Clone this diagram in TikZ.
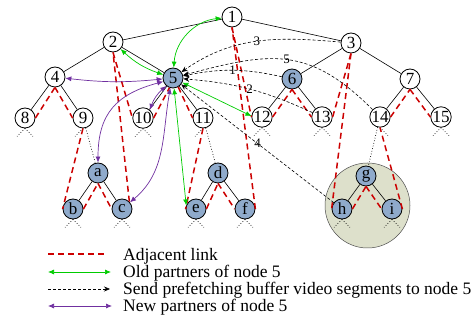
\documentclass[tikz,border=0pt]{standalone}
\usepackage{fontspec}
\setmainfont{Liberation Serif}
\usetikzlibrary{arrows.meta}
\definecolor{linkred}{RGB}{204,0,0}
\definecolor{oldgreen}{RGB}{0,204,0}
\definecolor{newpurple}{RGB}{112,48,160}
\definecolor{peerblue}{RGB}{143,170,203}
\definecolor{groupfill}{RGB}{221,224,203}
\begin{document}
\begin{tikzpicture}[x=1pt,y=1pt,
  peer/.style={circle,draw,line width=0.8pt,fill=white,minimum size=20pt,inner sep=0pt,font=\fontsize{17}{17}\selectfont},
  newpeer/.style={peer,fill=peerblue},
  tree/.style={line width=0.6pt},
  sub/.style={dotted,line width=0.7pt},
  adj/.style={linkred,line width=1.5pt,dash pattern=on 6pt off 4pt},
  old/.style={oldgreen,line width=0.7pt,{Latex[length=6pt,width=5pt]}-{Latex[length=6pt,width=5pt]}},
  new/.style={newpurple,line width=0.7pt,{Latex[length=6pt,width=5pt]}-{Latex[length=6pt,width=5pt]}},
  fetch/.style={line width=0.6pt,dash pattern=on 3pt off 2pt,-{Stealth[length=6pt,width=5pt]}},
  num/.style={font=\fontsize{13}{13}\selectfont,inner sep=1pt},
  legtext/.style={anchor=base west,inner sep=0pt,font=\fontsize{17.5}{17.5}\selectfont}]
\useasboundingbox (0,0) rectangle (472,-323);

\node[circle,draw=black!70,line width=0.5pt,fill=groupfill,minimum size=85pt,inner sep=0pt] (grp) at (367.5,-205.5) {};

\node[peer] (n1) at (232,-17) {1};
\node[peer] (n2) at (113,-42) {2};
\node[peer] (n3) at (351,-43) {3};
\node[peer] (n4) at (55,-77) {4};
\node[newpeer] (n5) at (173,-78) {5};
\node[newpeer] (n6) at (292,-79) {6};
\node[peer] (n7) at (410,-79) {7};
\node[peer] (n8) at (25,-118) {8};
\node[peer] (n9) at (83,-118) {9};
\node[peer] (n10) at (143,-118) {10};
\node[peer] (n11) at (203,-118) {11};
\node[peer] (n12) at (262,-117) {12};
\node[peer] (n13) at (322,-117) {13};
\node[peer] (n14) at (380,-117) {14};
\node[peer] (n15) at (441,-117) {15};
\node[newpeer] (na) at (98,-173) {a};
\node[newpeer] (nb) at (73,-209) {b};
\node[newpeer] (nc) at (122,-209) {c};
\node[newpeer] (nd) at (218,-173) {d};
\node[newpeer] (ne) at (196,-209) {e};
\node[newpeer] (nf) at (245,-209) {f};
\node[newpeer] (ng) at (366,-176) {g};
\node[newpeer] (nh) at (342,-209) {h};
\node[newpeer] (ni) at (392,-209) {i};

\draw[tree] (n1) -- (n2);
\draw[tree] (n1) -- (n3);
\draw[tree] (n2) -- (n4);
\draw[tree] (n2) -- (n5);
\draw[tree] (n3) -- (n6);
\draw[tree] (n3) -- (n7);
\draw[tree] (n4) -- (n8);
\draw[tree] (n4) -- (n9);
\draw[tree] (n5) -- (n10);
\draw[tree] (n5) -- (n11);
\draw[tree] (n6) -- (n12);
\draw[tree] (n6) -- (n13);
\draw[tree] (n7) -- (n14);
\draw[tree] (n7) -- (n15);
\draw[tree] (na) -- (nb);
\draw[tree] (na) -- (nc);
\draw[tree] (nd) -- (ne);
\draw[tree] (nd) -- (nf);
\draw[tree] (ng) -- (nh);
\draw[tree] (ng) -- (ni);
\draw[sub] (n9) -- (na);
\draw[sub] (n11) -- (nd);
\draw[sub] (n14) -- (ng);

% open subtrees below the leaves
\foreach \n in {n8,n10,n12,n13,n15,nb,nc,ne,nf,nh,ni}
  \draw[sub] (\n.south) -- ++(-8,-8) (\n.south) -- ++(8,-8);
\draw[sub] (n9.south) -- ++(-8,-8);
\draw[sub] (n11.south) -- ++(-8,-8);
\draw[sub] (n14.south) -- ++(8,-8);

\draw[adj] (n8.east) -- (n4.south);
\draw[adj] (n4.south) -- (n9.west);
\draw[adj] (n9.south) -- (nb.west);
\draw[adj] (nb.east) -- (na.south);
\draw[adj] (na.south) -- (nc.west);
\draw[adj] (nc.north east) -- (n2.south);
\draw[adj] (n2.south) -- (n10.west);
\draw[adj] (n10.east) -- (n5.-110);
\draw[adj] (n5.-60) -- (n11.west);
\draw[adj] (n11.south) -- (ne.west);
\draw[adj] (ne.east) -- (nd.south);
\draw[adj] (nd.south) -- (nf.west);
\draw[adj] (nf.east) -- (n1.south);
\draw[adj] (n1.south) -- (n12.west);
\draw[adj] (n12.east) -- (n6.south);
\draw[adj] (n6.south) -- (n13.west);
\draw[adj] (n13.east) -- (n3.south);
\draw[adj] (n3.south) -- (nh.west);
\draw[adj] (nh.east) -- (ng.south);
\draw[adj] (ng.south) -- (ni.west);
\draw[adj] (ni.east) -- (n14.south);
\draw[adj] (n14.east) -- (n7.south);
\draw[adj] (n7.south) -- (n15.west);

\draw[old] (n5) to[bend left=40] (n1);
\draw[old] (n2) to[bend right=12] (n5);
\draw[old] (n5) -- (n12.175);
\draw[old] (n5) -- (ne.160);

\draw[new] (n4) to[bend right=6] (n5);
\draw[new] (n5.-130) to[bend right=15] (n10.50);
\draw[new] (n5.200) to[out=195,in=90,looseness=1.2] (na.north);
\draw[new] (n5.-105) to[out=-100,in=40] (nc);

\draw[fetch] (n3) to[out=175,in=35] node[num,pos=0.5] (l3) {3} (n5);
\draw[fetch] (n14) to[out=135,in=15,looseness=1.2] node[num,pos=0.5] (l5) {5} (n5);
\draw[fetch] (n6) to[bend right=12] node[num,pos=0.5] (l1) {1} (n5);
\draw[fetch] (n13) to[bend right=10] node[num,pos=0.5] (l2) {2} (n5);
\draw[fetch] (nh) -- node[num,pos=0.5] (l4) {4} (n5);

\node[legtext] (t1) at (123,-261) {Adjacent link};
\node[legtext] (t2) at (123,-278) {Old partners of node 5};
\node[legtext] (t3) at (123,-295) {Send prefetching buffer video segments to node 5};
\node[legtext] (t4) at (123,-312) {New partners of node 5};
\coordinate (k1) at (48,-254);
\coordinate (k2) at (48,-272);
\coordinate (k3) at (48,-289);
\coordinate (k4) at (48,-306);
\draw[adj] (k1) -- ++(59,0);
\draw[old] (k2) -- ++(63,0);
\draw[fetch] (k3) -- ++(62,0);
\draw[new] (k4) -- ++(64,0);
\end{tikzpicture}
\end{document}
